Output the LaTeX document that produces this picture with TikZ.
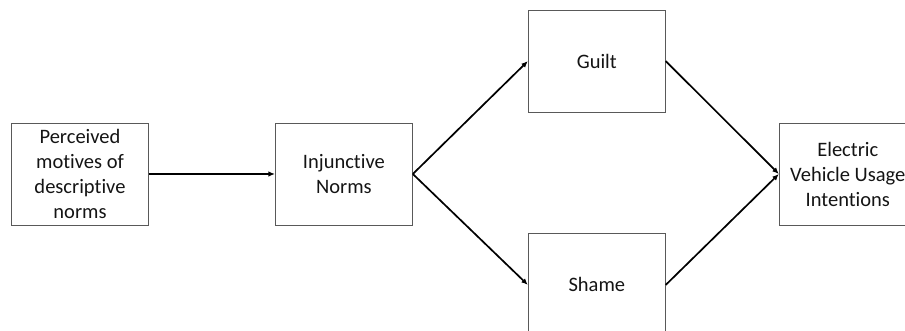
\documentclass[tikz,border=0pt]{standalone}
\usepackage{fontspec}
\setmainfont{Carlito}[Ligatures=NoCommon]
\usetikzlibrary{positioning,arrows.meta}

\begin{document}
\begin{tikzpicture}[
  x=1pt, y=1pt,
  >={Latex[length=6.5pt,width=5.5pt]},
  font=\fontsize{20.5pt}{25pt}\selectfont,
  box/.style={draw=black!65, line width=0.9pt, align=center, text=black!92, minimum width=137pt, minimum height=102pt, inner sep=0pt},
  link/.style={->, line width=1.7pt, black},
]
\clip (0,0) rectangle (905,-331);
\useasboundingbox (0,0) rectangle (905,-331);

% main row
\node[box] (perc) at (80,-174) {Perceived\\motives of\\descriptive\\norms};
\node[box, right=126pt of perc] (inj) {Injunctive\\Norms};

% emotions
\node[box, above right=10pt and 115pt of inj] (guilt) {Guilt};
\node[box, below right=8pt and 115pt of inj] (shame) {Shame};

% outcome
\node[box, right=366pt of inj] (ev) {Electric\\Vehicle Usage\\Intentions};

% paths
\draw[link] (perc.east) -- (inj.west);
\draw[link] (inj.east) -- (guilt.west);
\draw[link] (inj.east) -- (shame.west);
\draw[link] (guilt.east) -- (ev.west);
\draw[link] (shame.east) -- (ev.west);

\end{tikzpicture}
\end{document}
